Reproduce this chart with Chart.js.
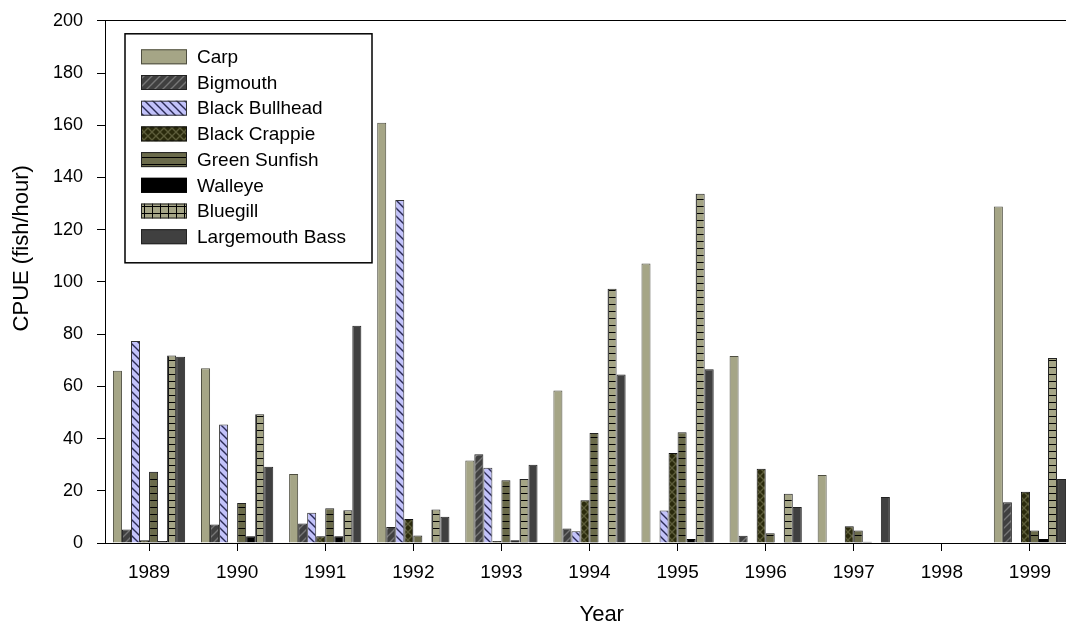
<!DOCTYPE html>
<html>
<head>
<meta charset="utf-8">
<script src="https://cdn.jsdelivr.net/npm/chart.js@4"></script>
<style>
  html, body { margin: 0; padding: 0; background: #fff; overflow: hidden; width: 1066px; height: 630px; }
  #wrap { width: 1066px; height: 630px; overflow: hidden; position: relative; }
  #wrap canvas { position: absolute; left: 0; top: -4px; }
</style>
</head>
<body>
<div id="wrap"><canvas id="cpueChart" width="1082" height="634"></canvas></div>
<script>
'use strict';

const years = ['1989', '1990', '1991', '1992', '1993', '1994', '1995', '1996', '1997', '1998', '1999'];
const yTicks = [0, 20, 40, 60, 80, 100, 120, 140, 160, 180, 200];

const carp           = [66.0, 66.9, 26.4, 161.0, 31.6, 58.4, 107.0, 71.6, 26.0, 0, 128.9];
const bigmouth       = [5.2, 7.1, 7.5, 6.1, 34.0, 5.6, 0.3, 2.8, 0, 0, 15.6];
const blackBullhead  = [77.4, 45.4, 11.6, 131.4, 28.8, 4.5, 12.4, 0, 0, 0, 0];
const blackCrappie   = [1.1, 0.3, 2.6, 9.2, 0.8, 16.4, 34.5, 28.4, 6.4, 0, 19.6];
const greenSunfish   = [27.3, 15.3, 13.3, 2.9, 24.0, 42.1, 42.4, 3.7, 4.8, 0, 4.8];
const walleye        = [0.8, 2.6, 2.6, 0, 1.1, 0, 1.5, 0, 0.5, 0, 1.5];
const bluegill       = [71.8, 49.3, 12.5, 12.8, 24.5, 97.4, 133.8, 18.9, 0, 0, 70.9];
const largemouthBass = [71.3, 29.2, 83.2, 10.1, 30.0, 64.5, 66.5, 13.8, 17.6, 0, 24.5];

const FONT = 'Arial, "Liberation Sans", sans-serif';

// small tiles for the hatch fills
function tile(bg, fg, w, h, draw) {
    const c = document.createElement('canvas');
    c.width = w;
    c.height = h;
    const g = c.getContext('2d');
    g.fillStyle = bg;
    g.fillRect(0, 0, w, h);
    g.strokeStyle = fg;
    g.fillStyle = fg;
    draw(g, w, h);
    return g.createPattern(c, 'repeat');
}
function slash(g) {
    g.lineWidth = 1.4;
    g.beginPath();
    g.moveTo(0, 8); g.lineTo(8, 0);
    g.moveTo(-4, 4); g.lineTo(4, -4);
    g.moveTo(4, 12); g.lineTo(12, 4);
    g.stroke();
}
function backslash(g) {
    g.lineWidth = 1.4;
    g.beginPath();
    g.moveTo(0, 0); g.lineTo(8, 8);
    g.moveTo(-4, 4); g.lineTo(4, 12);
    g.moveTo(4, -4); g.lineTo(12, 4);
    g.stroke();
}

const fills = {
    carp: '#a5a586',
    bigmouth: tile('#404040', '#767676', 8, 8, slash),
    bullhead: tile('#c2c2fa', '#2a2a55', 8, 8, backslash),
    crappie: tile('#2a2a0c', '#5c5c3a', 8, 8, g => { slash(g); backslash(g); }),
    sunfish: tile('#6b6b4b', '#000', 8, 7, (g, w) => g.fillRect(0, 0, w, 1)),
    walleye: '#000000',
    bluegill: tile('#a5a586', '#000', 8, 7, (g, w, h) => { g.fillRect(0, 0, w, 1); g.fillRect(0, 0, 1, h); }),
    bass: '#404040'
};

const legendBox = {
    id: 'legendBox',
    afterDraw(chart) {
        const ctx = chart.ctx;
        const a = chart.chartArea;
        const x = a.left + 20, y = a.top + 13, w = 247, h = 229;
        ctx.save();
        ctx.fillStyle = '#fff';
        ctx.fillRect(x, y, w, h);
        ctx.strokeStyle = '#000';
        ctx.lineWidth = 1.5;
        ctx.strokeRect(x, y, w, h);
        ctx.font = '19px ' + FONT;
        ctx.textBaseline = 'middle';
        chart.data.datasets.forEach((ds, i) => {
            const cy = y + 23 + i * 25.7;
            ctx.fillStyle = ds.backgroundColor;
            ctx.fillRect(x + 16, cy - 7.5, 46, 15);
            ctx.strokeStyle = ds.borderColor;
            ctx.lineWidth = 1;
            ctx.strokeRect(x + 16.5, cy - 7, 45, 14);
            ctx.fillStyle = '#000';
            ctx.fillText(ds.label, x + 72, cy + 1);
        });
        ctx.restore();
    }
};

function series(label, data, fill, border) {
    return {
        label: label,
        data: data,
        backgroundColor: fill,
        borderColor: border,
        borderWidth: 1,
        categoryPercentage: 0.82,
        barPercentage: 1.0
    };
}

new Chart(document.getElementById('cpueChart').getContext('2d'), {
    type: 'bar',
    data: {
        labels: years,
        datasets: [
            series('Carp', carp, fills.carp, '#4e4e40'),
            series('Bigmouth', bigmouth, fills.bigmouth, '#222'),
            series('Black Bullhead', blackBullhead, fills.bullhead, '#333'),
            series('Black Crappie', blackCrappie, fills.crappie, '#111'),
            series('Green Sunfish', greenSunfish, fills.sunfish, '#222'),
            series('Walleye', walleye, fills.walleye, '#000'),
            series('Bluegill', bluegill, fills.bluegill, '#222'),
            series('Largemouth Bass', largemouthBass, fills.bass, '#222')
        ]
    },
    options: {
        responsive: false,
        animation: false,
        layout: { padding: { top: 16, right: 8, bottom: 0, left: 0 } },
        plugins: {
            legend: { display: false },
            tooltip: { enabled: false }
        },
        scales: {
            x: {
                grid: { display: true, drawOnChartArea: false, offset: false, tickColor: '#000', tickLength: 8 },
                border: { display: true, color: '#000', width: 1 },
                ticks: { color: '#000', font: { family: FONT, size: 19 }, padding: 10, maxRotation: 0 },
                title: { display: true, text: '    Year', color: '#000', font: { family: FONT, size: 22 }, padding: { top: 0, bottom: 2 } },
                afterFit: s => { s.height = 87; }
            },
            y: {
                min: 0,
                max: 200,
                afterBuildTicks: s => { s.ticks = yTicks.map(v => ({ value: v })); },
                grid: {
                    color: c => (c.tick && c.tick.value === 200) ? '#000' : 'rgba(0,0,0,0)',
                    tickColor: '#000',
                    tickLength: 8
                },
                border: { display: true, color: '#000', width: 1 },
                ticks: { color: '#000', font: { family: FONT, size: 18 }, padding: 14 },
                title: { display: true, text: '           CPUE (fish/hour)', color: '#000', font: { family: FONT, size: 22 }, padding: { top: 9, bottom: 0 } },
                afterFit: s => { s.width = 105; }
            }
        }
    },
    plugins: [legendBox]
});
</script>
</body>
</html>
